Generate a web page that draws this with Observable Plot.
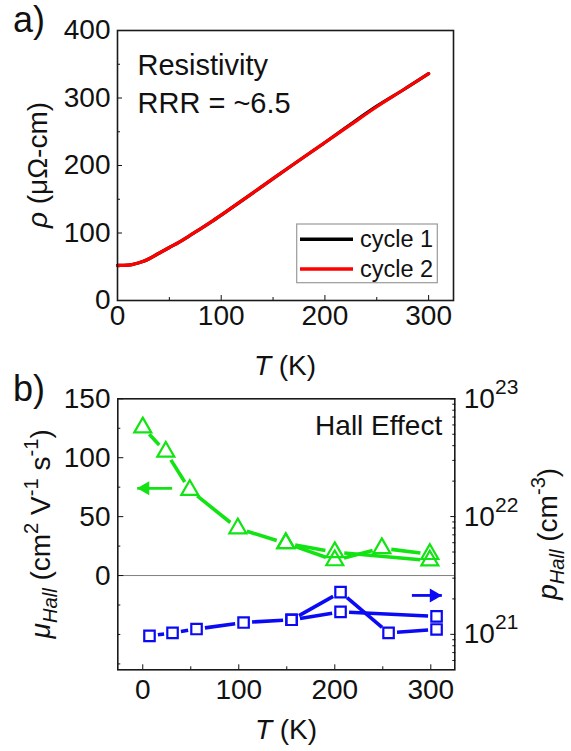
<!DOCTYPE html>
<html>
<head>
<meta charset="utf-8">
<script src="https://cdn.jsdelivr.net/npm/d3@7"></script>
<script src="https://cdn.jsdelivr.net/npm/@observablehq/plot@0.6"></script>
<style>
  html, body { margin: 0; padding: 0; background: #fff; }
  #chart { position: relative; width: 571px; height: 751px; font-family: "Liberation Sans", Arial, sans-serif; }
  #chart svg { position: absolute; left: 0; }
</style>
</head>
<body>
<div id="chart"></div>
<script>
// ---- Panel a: resistivity versus temperature, two thermal cycles ----
const rhoT      = [0, 5, 10, 15, 20, 25, 30, 40, 50, 60, 70, 80, 90, 100, 120, 150, 175, 200, 225, 250, 275, 300];
const rhoCycle1 = [52, 52, 52.3, 53.5, 55.5, 58, 61.5, 70, 78.5, 87, 96.5, 106, 116, 126.5, 148, 180.5, 207.5, 234, 261.5, 288, 311.5, 336];
const rhoCycle2 = [52, 52, 52.3, 53.5, 55.5, 58, 61.5, 70, 78.5, 87, 96.5, 106, 116, 126.5, 148, 180.5, 207.5, 234, 260.5, 287, 311.5, 336];
const rhoXTicks = [0, 100, 200, 300];
const rhoXMinor = [50, 150, 250];
const rhoYTicks = [0, 100, 200, 300, 400];
const rhoYMinor = [50, 150, 250, 350];

// ---- Panel b: Hall mobility (left, linear) and carrier density (right, log) ----
const muT1 = [0, 24, 49, 99, 149, 200, 249, 299];
const mu1  = [125.7, 105, 72.6, 40, 27.4, 12.9, 23.2, 18.2];
const muT2 = [149, 200, 299];
const mu2  = [27.4, 19.8, 12.7];
const pT1  = [7, 31, 56, 105, 155, 206, 256, 306];
const p1   = [9.7e20, 1.03e21, 1.11e21, 1.26e21, 1.33e21, 2.28e21, 1.03e21, 1.10e21];
const pT2  = [155, 206, 306];
const p2   = [1.33e21, 1.55e21, 1.42e21];
const hallXTicks = [0, 100, 200, 300];
const hallXMinor = [50, 150, 250];
const muTicks = [0, 50, 100, 150];
const muMinor = [-75, -50, -25, 25, 75, 125];
const pTicks = [1e21, 1e22, 1e23];
const pMinor = [6e20, 7e20, 8e20, 9e20, 2e21, 3e21, 4e21, 5e21, 6e21, 7e21, 8e21, 9e21, 2e22, 3e22, 4e22, 5e22, 6e22, 7e22, 8e22, 9e22];
// axis-direction arrows: [T tail, T tip, value]
const muArrow = [30.6, -5.8, 74];
const pArrow  = [280.3, 311.5, 2.14e21];

const FONT = '"Liberation Sans", Arial, sans-serif';
const GREEN = "#12e312";
const BLUE = "#0a0af5";
const FRAME = "#1a1a1a";

const rows = (xs, ys) => xs.map((x, i) => ({x, y: ys[i]}));
const segments = (xs, ys) => xs.slice(1).map((x, i) => ({x1: xs[i], y1: ys[i], x2: x, y2: ys[i + 1]}));
// solid connecting segments that stop short of each symbol
const gapLine = (xs, ys, stroke, gap) => Plot.arrow(segments(xs, ys), {
  x1: "x1", y1: "y1", x2: "x2", y2: "y2", insetStart: gap, insetEnd: gap,
  headLength: 0, stroke, strokeWidth: 3.6, strokeLinecap: "butt"
});

const chart = document.getElementById("chart");
const baseStyle = {fontFamily: FONT, fontSize: "28px", color: "#111", background: "transparent", overflow: "visible"};

// ---------- panel a ----------
const plotA = Plot.plot({
  width: 571, height: 380,
  marginLeft: 117, marginRight: 118, marginTop: 30, marginBottom: 80,
  style: baseStyle,
  x: {domain: [0, 324]},
  y: {domain: [0, 400]},
  marks: [
    Plot.axisX({ticks: rhoXTicks, tickSize: -5, tickPadding: 10, label: null, tickFormat: d => String(d)}),
    Plot.axisX({ticks: rhoXMinor, tickSize: -3, tickFormat: () => "", label: null}),
    Plot.axisY({ticks: rhoYTicks, tickSize: -5, tickPadding: 12, label: null, tickFormat: d => String(d)}),
    Plot.axisY({ticks: rhoYMinor, tickSize: -3, tickFormat: () => "", label: null}),
    Plot.line(rows(rhoT, rhoCycle1), {x: "x", y: "y", stroke: "#000", strokeWidth: 3.2, curve: "catmull-rom"}),
    Plot.line(rows(rhoT, rhoCycle2), {x: "x", y: "y", stroke: "#ff0000", strokeWidth: 3.2, curve: "catmull-rom"}),
    Plot.text(["Resistivity\nRRR = ~6.5"], {frameAnchor: "top-left", dx: 20, dy: 17, lineHeight: 1.32, fontSize: 29, fill: "#111"}),
    Plot.frame({stroke: FRAME, strokeWidth: 1.6})
  ]
});
plotA.style.top = "0px";
chart.appendChild(plotA);

// ---------- panel b, mobility on the left axis ----------
const bDims = {width: 571, height: 371, marginLeft: 117.3, marginRight: 116.7, marginTop: 18.3, marginBottom: 81.7};
const plotB = Plot.plot({
  ...bDims,
  style: baseStyle,
  x: {domain: [-26, 325]},
  y: {domain: [-80, 150]},
  marks: [
    Plot.ruleY([0], {stroke: "#808080", strokeWidth: 1}),
    Plot.axisX({ticks: hallXTicks, tickSize: -5, tickPadding: 14, label: null, tickFormat: d => String(d)}),
    Plot.axisX({ticks: hallXMinor, tickSize: -3, tickFormat: () => "", label: null}),
    Plot.axisY({ticks: muTicks, tickSize: -6, tickPadding: 13.3, label: null, tickFormat: d => String(d)}),
    Plot.axisY({ticks: muMinor, tickSize: -3, tickFormat: () => "", label: null}),
    gapLine(muT1, mu1, GREEN, 9.5),
    gapLine(muT2, mu2, GREEN, 9.5),
    Plot.dot(rows(muT1, mu1), {x: "x", y: "y", symbol: "triangle", r: 6.3, stroke: GREEN, strokeWidth: 2.2, fill: "none"}),
    Plot.dot(rows(muT2, mu2), {x: "x", y: "y", symbol: "triangle", r: 6.3, stroke: GREEN, strokeWidth: 2.2, fill: "none"}),
    Plot.link([muArrow], {x1: d => d[0], x2: d => d[1], y1: d => d[2], y2: d => d[2], stroke: GREEN, strokeWidth: 2.8}),
    Plot.dot([muArrow], {x: d => d[1], y: d => d[2], symbol: "triangle", r: 5.2, rotate: -90, dx: 8, fill: GREEN}),
    Plot.text(["Hall Effect"], {frameAnchor: "top-right", dx: -12.6, dy: 16.7, fontSize: 28, fill: "#111"}),
    Plot.frame({stroke: FRAME, strokeWidth: 1.6})
  ]
});
plotB.style.top = "380px";
chart.appendChild(plotB);

// ---------- panel b, carrier density on the right (log) axis ----------
const plotBR = Plot.plot({
  ...bDims,
  style: baseStyle,
  x: {domain: [-26, 325], axis: null},
  y: {type: "log", domain: [5.0e20, 1e23]},
  marks: [
    Plot.axisY({anchor: "right", ticks: pTicks, tickSize: -5, tickPadding: 14, label: null,
                tickFormat: d => "10^" + Math.round(Math.log10(d))}),
    Plot.axisY({anchor: "right", ticks: pMinor, tickSize: -3, tickFormat: () => "", label: null}),
    gapLine(pT1, p1, BLUE, 8.5),
    gapLine(pT2, p2, BLUE, 8.5),
    Plot.dot(rows(pT1, p1), {x: "x", y: "y", symbol: "square", r: 5.9, stroke: BLUE, strokeWidth: 2.2, fill: "none"}),
    Plot.dot(rows(pT2, p2), {x: "x", y: "y", symbol: "square", r: 5.9, stroke: BLUE, strokeWidth: 2.2, fill: "none"}),
    Plot.link([pArrow], {x1: d => d[0], x2: d => d[1], y1: d => d[2], y2: d => d[2], stroke: BLUE, strokeWidth: 2.8}),
    Plot.dot([pArrow], {x: d => d[1], y: d => d[2], symbol: "triangle", r: 5.2, rotate: 90, dx: -8, fill: BLUE})
  ]
});
plotBR.style.top = "380px";
chart.appendChild(plotBR);

// powers of ten on the right axis: 10 with a raised exponent
d3.select(plotBR).selectAll("text").each(function () {
  const s = this.textContent;
  if (!s.startsWith("10^")) return;
  const t = d3.select(this);
  t.text(null);
  t.append("tspan").text("10");
  t.append("tspan").text(s.slice(3)).attr("font-size", 21).attr("dy", -14);
});

// ---------- titles, panel tags, legend ----------
const ann = d3.select(chart).append("svg")
  .attr("width", 571).attr("height", 751)
  .style("top", "0px").style("pointer-events", "none")
  .attr("font-family", FONT).attr("fill", "#111");

function richText({x, y, rotate = 0, anchor = "middle", size, parts}) {
  const t = ann.append("text")
    .attr("transform", `translate(${x},${y}) rotate(${rotate})`)
    .attr("text-anchor", anchor).attr("font-size", size);
  let shift = 0;
  for (const p of parts) {
    const target = p.sup ? -0.42 * size : p.sub ? 0.24 * size : 0;
    const s = t.append("tspan").text(p.t).attr("dy", target - shift);
    shift = target;
    if (p.sup || p.sub) s.attr("font-size", size * 0.72);
    if (p.it) s.attr("font-style", "italic");
  }
}

ann.append("text").attr("x", 13).attr("y", 32).attr("font-size", 36).text("a)");
ann.append("text").attr("x", 13).attr("y", 401).attr("font-size", 36).text("b)");

richText({x: 285, y: 375, size: 28, parts: [{t: "T", it: true}, {t: " (K)"}]});
richText({x: 286, y: 739, size: 28, parts: [{t: "T", it: true}, {t: " (K)"}]});
richText({x: 46.5, y: 165, rotate: -90, size: 28, parts: [{t: "ρ", it: true}, {t: " (μΩ-cm)"}]});
richText({x: 50, y: 533.8, rotate: -90, size: 28, parts: [
  {t: "μ", it: true}, {t: "Hall", it: true, sub: true}, {t: " (cm"}, {t: "2", sup: true},
  {t: " V"}, {t: "-1", sup: true}, {t: " s"}, {t: "-1", sup: true}, {t: ")"}
]});
richText({x: 557, y: 533.8, rotate: -90, size: 28, parts: [
  {t: "p", it: true}, {t: "Hall", it: true, sub: true}, {t: " (cm"}, {t: "-3", sup: true}, {t: ")"}
]});

// legend for the two cycles
const leg = ann.append("g");
leg.append("rect").attr("x", 296.7).attr("y", 224).attr("width", 140.6).attr("height", 58.7)
  .attr("fill", "#fff").attr("stroke", "#9a9a9a").attr("stroke-width", 1.2);
[["cycle 1", "#000", 239.3], ["cycle 2", "#ff0000", 269]].forEach(([name, color, y]) => {
  leg.append("line").attr("x1", 300).attr("x2", 353).attr("y1", y).attr("y2", y)
    .attr("stroke", color).attr("stroke-width", 3.5);
  leg.append("text").attr("x", 360).attr("y", y + 8).attr("font-size", 23.5).text(name);
});
</script>
</body>
</html>
